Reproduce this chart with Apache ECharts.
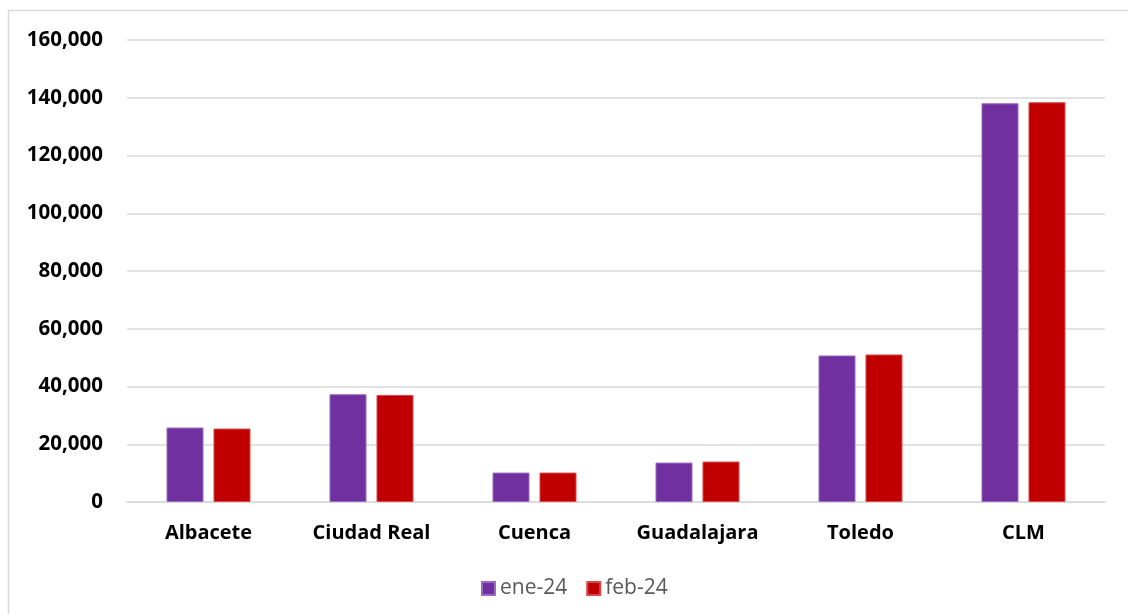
<!DOCTYPE html>
<html><head><meta charset="utf-8">
<script src="https://cdn.jsdelivr.net/npm/echarts@6/dist/echarts.min.js"></script>
<style>html,body{margin:0;padding:0;background:#fff}#c{width:1128px;height:614px}</style>
</head><body><div id="c"></div>
<script>
const categories = ['Albacete','Ciudad Real','Cuenca','Guadalajara','Toledo','CLM'];
const ene24 = [25790, 37330, 10190, 13650, 50740, 138090];
const feb24 = [25440, 37090, 10190, 14000, 51090, 138440];
const seriesNames = ['ene-24','feb-24'];

const chart = echarts.init(document.getElementById('c'), null, {renderer:'canvas'});
const font = "'Open Sans', 'Noto Sans', sans-serif";
chart.setOption({
  animation:false,
  graphic:[{type:'rect',shape:{x:8.5,y:10.5,width:1130,height:620},style:{fill:'none',stroke:'#D9D9D9',lineWidth:1.5},silent:true}],
  grid:{left:127,right:23,top:40,bottom:112,containLabel:false},
  legend:{top:573,left:476,itemWidth:13,itemHeight:13,itemGap:19,icon:'rect',
    textStyle:{color:'#595959',fontSize:21,fontFamily:font},data:seriesNames},
  xAxis:{type:'category',data:categories,
    axisLine:{show:true,lineStyle:{color:'#D9D9D9',width:1.5}},axisTick:{show:false},
    axisLabel:{color:'#000',fontWeight:'bold',fontSize:20,fontFamily:font,margin:21}},
  yAxis:{type:'value',min:0,max:160000,interval:20000,
    axisLine:{show:false},axisTick:{show:false},
    splitLine:{lineStyle:{color:'#D9D9D9',width:1.5}},
    axisLabel:{color:'#000',fontWeight:'bold',fontSize:20.5,fontFamily:font,margin:24,
      formatter:v=>v.toLocaleString('en-US')}},
  series:[
    {name:seriesNames[0],type:'bar',data:ene24,barWidth:37,barGap:'27%',
      itemStyle:{color:'#7030A0',borderColor:'#9B6BC0',borderWidth:1}},
    {name:seriesNames[1],type:'bar',data:feb24,barWidth:37,
      itemStyle:{color:'#C00000',borderColor:'#D84848',borderWidth:1}}
  ]
});
</script></body></html>
